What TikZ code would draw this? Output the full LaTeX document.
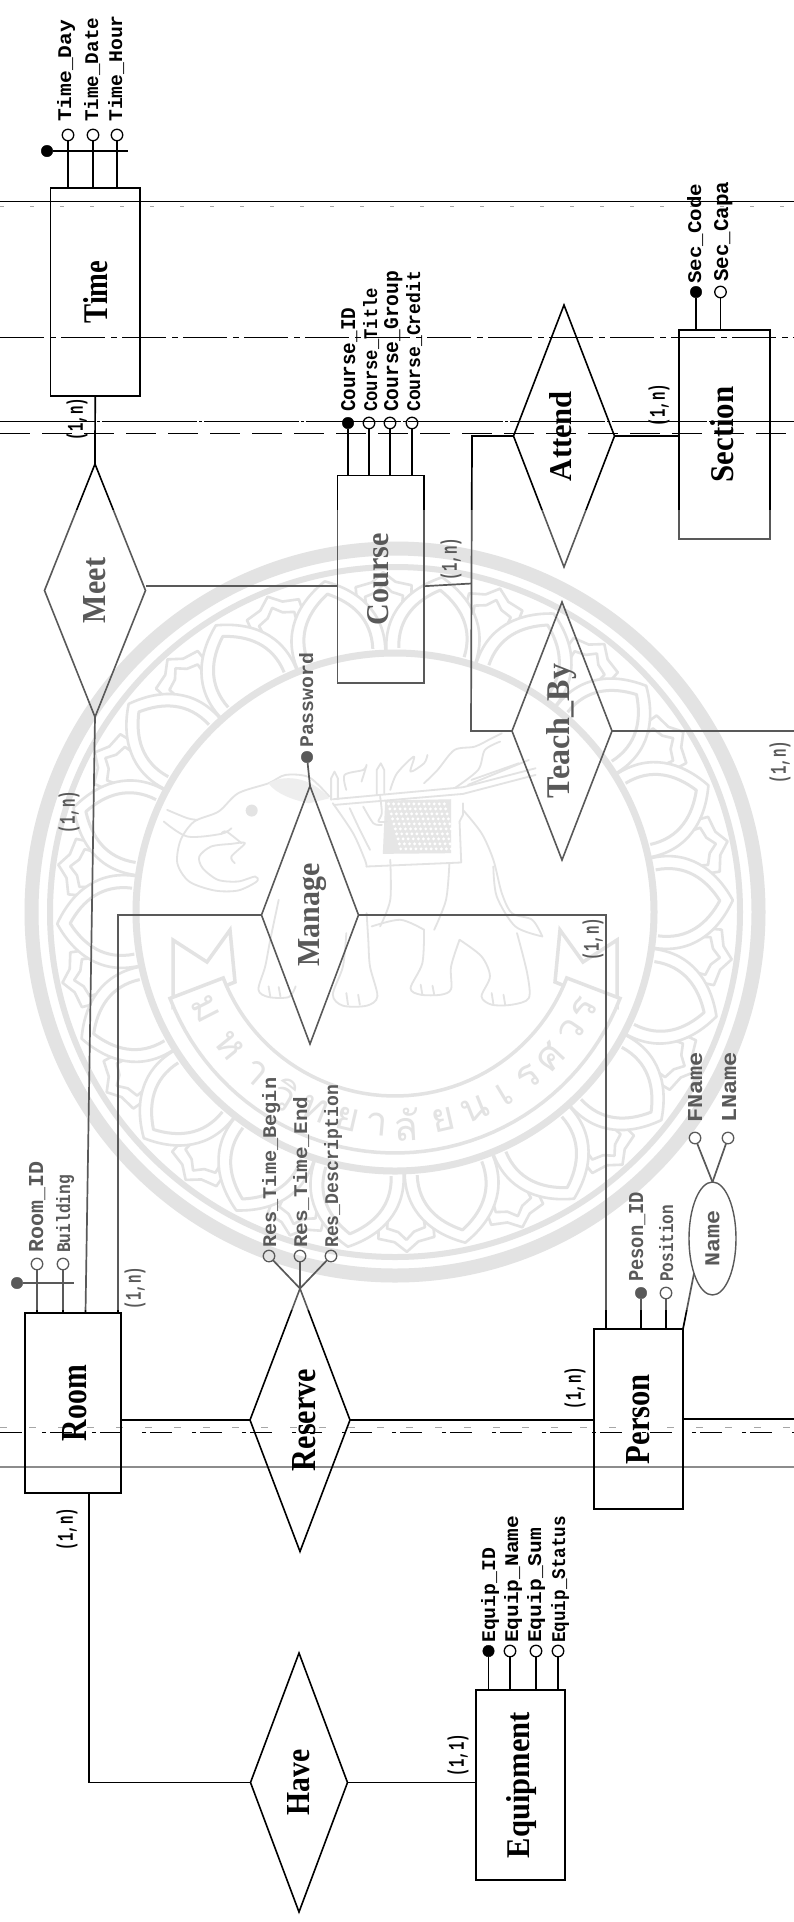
\documentclass[tikz,border=0pt]{standalone}
\usepackage{fontspec}
\setmainfont{Liberation Serif}
\newfontfamily\attfont{Liberation Mono}[BoldFont={Liberation Mono Bold}]
\newfontfamily\thaifont[Script=Thai]{Loma}
\usetikzlibrary{shapes.geometric,calc}
\definecolor{wm}{gray}{0.83}
\newcommand{\attrlab}[5]{\node[rotate=90,anchor=base west,inner sep=0pt] (#1) at (#2+7,#3) {\resizebox{#4pt}{14pt}{\attfont\bfseries #5}};}
\newcommand{\entlab}[4][0pt]{\kern#1\rotatebox{90}{\resizebox{#2pt}{#3pt}{\bfseries #4}}}
\newcommand{\cardlab}[4]{\node[rotate=90,inner sep=0pt] (#1) at (#2,#3) {\resizebox*{42pt}{21pt}{\attfont\bfseries #4}};}
\tikzset{
 entity/.style={rectangle,draw,line width=1.8pt,inner sep=0pt,outer sep=0pt},
 rel/.style={diamond,draw,line width=1.6pt,aspect=0.39,inner sep=0pt,outer sep=0pt},
 lnk/.style={line width=1.7pt},
 acirc/.style={circle,draw,line width=1.3pt,minimum size=11.5pt,inner sep=0pt,outer sep=0pt},
 fcirc/.style={circle,draw,fill=black,minimum size=11.5pt,inner sep=0pt,outer sep=0pt},
 petal/.style={wm,fill=white,line join=round},
 ele/.style={wm,line width=1.8pt,line cap=round,line join=round}
}
\begin{document}
\begin{tikzpicture}[x=1pt,y=-1pt]
\useasboundingbox (0,0) rectangle (794,1922);
\fill[white] (0,0) rectangle (794,1922);
% ---------- seal ----------
\begin{scope}[shift={(395,912)}]
 \draw[wm,line width=14pt] (0,0) circle[radius=363.5pt];
 \draw[wm,line width=6pt] (0,0) circle[radius=345pt];
 \foreach \a in {2,22,...,342}{
  \begin{scope}[rotate=\a,x=1pt,y=1pt]
   \draw[wm,line width=2.6pt,fill=white,line join=round] (-26,290) -- (-28,326) -- (-12,330) -- (0,340) -- (12,330) -- (28,326) -- (26,290);
   \draw[wm,line width=2.6pt,line join=round] (-17,300) -- (-19,316) -- (-8,320) -- (0,328) -- (8,320) -- (19,316) -- (17,300);
  \end{scope}}
 \foreach \a in {12,32,...,352}{
  \begin{scope}[rotate=\a,x=1pt,y=1pt]
   \draw[petal,line width=2.6pt] (-45,258) .. controls (-52,295) and (-32,322) .. (0,338) .. controls (32,322) and (52,295) .. (45,258);
   \draw[petal,line width=3pt] (-33,262) .. controls (-38,292) and (-22,312) .. (0,325) .. controls (22,312) and (38,292) .. (33,262);
  \end{scope}}
 \draw[wm,line width=7pt] (0,0) circle[radius=259pt];
 % ribbon tails
 \foreach \s in {1,-1}{
  \begin{scope}[xscale=\s]
   \draw[wm,line width=3.5pt,fill=white,line join=miter] (-222,28) -- (-188,50) -- (-165,18) -- (-160,70) -- (-222,95) -- cycle;
  \end{scope}}
 % banner
 \draw[wm,line width=3.5pt,fill=white,line join=miter]
   plot[domain=21:159,samples=50] (\x:184) -- plot[domain=159:21,samples=50] (\x:241) -- cycle;
 \foreach \a/\c [count=\i] in {153/ม,141/ห,131/า,121/วิ,112/ท,103/ย,95/า,87/ลั,77/ย,68/น,59/เ,51/ร,43/ศ,34/ว,27/ร}{
  \node[text=wm,inner sep=0pt,rotate=90-\a] (th\i) at (\a:213) {\fontsize{40}{40}\thaifont \c};
 }
\end{scope}
% elephant, in coordinates of a local frame
\begin{scope}[shift={(130,700)},x=0.338pt,y=-0.333pt]
 \draw[ele] plot[smooth] coordinates {(590,290) (530,232) (460,225) (410,250) (320,280) (262,335) (190,365) (150,420) (140,490) (175,545) (250,572) (320,572) (375,545) (370,530) (320,545) (260,540) (215,505) (205,470) (240,440) (300,432) (340,430) (300,470) (310,490)};
 \draw[ele] plot[smooth] coordinates {(100,365) (170,410) (270,402) (300,385)};
 \draw[ele] plot[smooth] coordinates {(110,330) (170,355) (200,360)};
 \draw[ele] plot[smooth] coordinates {(270,402) (285,395) (330,430)};
 \fill[wm!60!white] (410,250) .. controls (450,225) and (530,225) .. (590,295) -- (530,310) .. controls (480,300) and (430,280) .. cycle;
 \fill[wm] (360,332) circle[radius=6pt];
 % legs and feet
 \draw[ele] plot[smooth] coordinates {(440,600) (415,720) (400,800) (380,870) (410,892) (470,892) (490,860)};
 \draw[ele] plot[smooth] coordinates {(700,640) (705,720) (710,800) (732,890) (700,918) (630,918) (600,885) (630,800) (640,700)};
 \draw[ele] plot[smooth] coordinates {(870,690) (865,790) (830,865) (860,885) (920,885) (950,868) (950,800) (975,720)};
 \draw[ele] plot[smooth] coordinates {(975,720) (1040,770) (1065,830) (1040,890) (1070,915) (1130,915) (1180,895) (1175,820) (1145,700)};
 \draw[ele] plot[smooth] coordinates {(715,680) (800,660) (870,690)};
 \draw[ele] (410,860) -- (415,890) (440,862) -- (445,890) (640,880) -- (645,915) (675,885) -- (680,915) (860,855) -- (865,885) (895,858) -- (900,885) (1070,880) -- (1075,912) (1105,885) -- (1110,915);
 % rump and tail
 \draw[ele] plot[smooth] coordinates {(985,330) (1040,400) (1075,480) (1100,580) (1130,640) (1190,660) (1220,710)};
 \draw[ele] plot[smooth] coordinates {(1075,500) (1085,590) (1140,680) (1220,710)};
 % neck folds
 \draw[ele] plot[smooth] coordinates {(600,310) (660,400) (695,480) (700,500)};
 \draw[ele] plot[smooth] coordinates {(650,325) (680,390) (710,450)};
 \draw[ele] plot[smooth] coordinates {(690,320) (720,370) (745,375)};
 \draw[ele] plot[smooth] coordinates {(770,480) (770,600) (740,680)};
 \draw[ele] plot[smooth] coordinates {(945,490) (935,600) (900,690)};
 % blanket
 \fill[wm!85!white] (755,302) -- (950,298) -- (950,460) -- (748,462) -- cycle;
 \foreach \i in {0,...,11}{\foreach \j in {0,...,9}{\fill[white] (765+\i*15+\j*4,312+\j*15) circle[radius=1.6pt];}}
 \draw[ele] (700,500) -- (980,488) -- (975,365);
 \draw[ele] (985,310) -- (985,345) -- (975,365);
 % poles and plumes
 \draw[ele] (600,298) -- (985,262) -- (1200,205);
 \draw[ele] (605,315) -- (985,282) -- (1200,225);
 \draw[ele] (1000,255) -- (1180,180);
 \draw[ele] (1010,240) -- (1150,190);
 \draw[ele] (595,300) -- (595,235) -- (605,215) -- (615,235) -- (615,298);
 \draw[ele] (730,285) -- (730,210) -- (742,190) -- (752,210) -- (752,280);
 \draw[ele] plot[smooth] coordinates {(640,270) (635,225) (690,210) (700,195) (685,245)};
 \draw[ele] plot[smooth] coordinates {(770,270) (790,220) (840,170) (830,215) (870,190) (880,165)};
 \draw[ele] plot[smooth] coordinates {(870,250) (910,210) (960,150) (1020,140) (1070,115) (1100,100)};
 \draw[ele] plot[smooth] coordinates {(960,265) (1030,210) (1050,150) (1095,125)};
 \draw[ele] plot[smooth] coordinates {(740,290) (745,340) (735,365) (760,365)};
\end{scope}
% ---------- scan lines ----------
\coordinate (hAa) at (0,201.6); \coordinate (hAb) at (794,201.6);
\coordinate (hBa) at (0,337);   \coordinate (hBb) at (794,337);
\coordinate (hCa) at (0,421);   \coordinate (hCb) at (794,421);
\coordinate (hDa) at (0,433);   \coordinate (hDb) at (794,433);
\coordinate (hEa) at (0,1432);  \coordinate (hEb) at (794,1432);
\coordinate (hFa) at (0,1467);  \coordinate (hFb) at (794,1467);
\coordinate (hGa) at (0,206);   \coordinate (hGb) at (794,206);
\coordinate (hHa) at (0,1427);  \coordinate (hHb) at (794,1427);
\draw[line width=1.3pt] (hAa) -- (hAb);
\draw[line width=1pt,dash pattern=on 44pt off 6pt on 6pt off 5pt] (hBa) -- (hBb);
\draw[line width=1pt,dash pattern=on 95pt off 2pt on 3pt off 2pt] (hCa) -- (hCb);
\draw[line width=1pt,dash pattern=on 30pt off 12pt] (hDa) -- (hDb);
\draw[line width=1pt,dash pattern=on 22pt off 20pt on 4pt off 4pt] (hEa) -- (hEb);
\draw[line width=1.3pt,gray!90] (hFa) -- (hFb);
\draw[line width=.8pt,gray!70,dash pattern=on 4pt off 26pt] (hGa) -- (hGb);
\draw[line width=.8pt,gray!70,dash pattern=on 7pt off 22pt] (hHa) -- (hHb);
% ---------- entities ----------
\node[entity,minimum width=89.5pt,minimum height=208pt] (Time) at (95.2,292) {\entlab{63}{24}{Time}};
\node[entity,minimum width=86.5pt,minimum height=207.5pt] (Course) at (380.7,579.2) {\entlab[-6pt]{92}{21}{Course}};
\node[entity,minimum width=91pt,minimum height=209pt] (Section) at (724.5,434.5) {\entlab[-4pt]{96}{23}{Section}};
\node[entity,minimum width=96pt,minimum height=180pt] (Room) at (73,1403) {\entlab[3pt]{76}{24}{Room}};
\node[entity,minimum width=89pt,minimum height=180pt] (Person) at (638.5,1419) {\entlab{90}{23}{Person}};
\node[entity,minimum width=89pt,minimum height=190pt] (Equipment) at (520.5,1785) {\entlab[2pt]{146}{23}{Equipment}};
% ---------- relationships ----------
\node[rel,minimum width=101pt,minimum height=253pt] (Meet) at (95,590.5) {\entlab{65}{22}{Meet}};
\node[rel,minimum width=101pt,minimum height=262pt] (Attend) at (564,436) {\entlab[-6pt]{90}{22}{Attend}};
\node[rel,minimum width=100pt,minimum height=258pt] (TeachBy) at (562,731) {\entlab{134}{23}{Teach\_By}};
\node[rel,minimum width=97pt,minimum height=258pt] (Manage) at (310,915) {\entlab[6pt]{103}{21}{Manage}};
\node[rel,minimum width=100pt,minimum height=263pt] (Reserve) at (300,1420) {\entlab[8pt]{102}{23}{Reserve}};
\node[rel,minimum width=97pt,minimum height=259pt] (Have) at (299,1782.5) {\entlab{66}{22}{Have}};
% ---------- relationship links ----------
\coordinate (trunkTop) at (472,436);
\coordinate (trunkBot) at (471,731);
\coordinate (tbEnd) at (794,731);
\coordinate (perEnd) at (794,1419);
\draw[lnk] (Time.south) -- (Meet.north);
\draw[lnk] (Meet.south) -- ([xshift=12.5pt]Room.north);
\draw[lnk] ([yshift=-7pt]Course.west) -- ([yshift=-7pt]Course.west -| Meet.east);
\draw[lnk] (Attend.west) -- (trunkTop) -- (trunkBot) -- (TeachBy.west);
\draw[lnk] ([yshift=-7pt]Course.east) -- ($(trunkTop)!0.5!(trunkBot)$ |- {[yshift=-7pt]Course.east});
\draw[lnk] (Attend.east) -- (Attend.east -| Section.west);
\draw[lnk] (TeachBy.east) -- (tbEnd);
\draw[lnk] (Manage.west) -| ([xshift=45pt]Room.north);
\draw[lnk] (Manage.east) -| ([xshift=-32.5pt]Person.north);
\draw[lnk] (Reserve.west) -- (Reserve.west -| Room.east);
\draw[lnk] (Reserve.east) -- (Reserve.east -| Person.west);
\draw[lnk] (Person.east) -- (perEnd);
\draw[lnk] (Have.west) -| ([xshift=16pt]Room.south);
\draw[lnk] (Have.east) -- (Have.east -| Equipment.west);
% ---------- Time attributes ----------
\node[fcirc] (tk) at (47,151) {};
\coordinate (tkEnd) at (128,151);
\draw[line width=1.2pt] (tk) -- (tkEnd);
\node[acirc] (ta) at (68,135) {};
\node[acirc] (tb) at (93,135) {};
\node[acirc] (tc) at (117,135) {};
\draw[lnk] (ta.south) -- (ta.south |- Time.north);
\draw[lnk] (tb.south) -- (tb.south |- Time.north);
\draw[lnk] (tc.south) -- (tc.south |- Time.north);
\attrlab{tal}{64}{122}{102}{Time\_Day}
\attrlab{tbl}{91}{122}{104}{Time\_Date}
\attrlab{tcl}{115}{122}{106.5}{Time\_Hour}
% ---------- Course attributes ----------
\node[fcirc] (ca) at (348,423) {};
\node[acirc] (cb) at (369,423) {};
\node[acirc] (cc) at (390,423) {};
\node[acirc] (cd) at (412,423) {};
\foreach \n in {ca,cb,cc,cd}{\draw[lnk] (\n.south) -- (\n.south |- Course.north);}
\attrlab{cal}{348}{412}{104}{Course\_ID}
\attrlab{cbl}{370}{412}{124}{Course\_Title}
\attrlab{ccl}{391}{412}{141}{Course\_Group}
\attrlab{cdl}{413}{412}{141}{Course\_Credit}
% ---------- Section attributes ----------
\node[fcirc] (sa) at (696,292) {};
\node[acirc] (sb) at (720.5,292) {};
\draw[lnk] (sa.south) -- (sa.south |- Section.north);
\draw[lnk] (sb.south) -- (sb.south |- Section.north);
\attrlab{sal}{694}{284}{100}{Sec\_Code}
\attrlab{sbl}{721}{282}{100}{Sec\_Capa}
% ---------- Manage attribute ----------
\node[fcirc,fill=black] (pw) at (307,757) {};
\draw[lnk] (pw) -- (Manage.north);
\attrlab{pwl}{306}{748}{95}{Password}
% ---------- Room attributes ----------
\node[fcirc] (rk) at (17,1283) {};
\coordinate (rkEnd) at (74,1283);
\draw[line width=1.2pt] (rk) -- (rkEnd);
\node[acirc] (ra) at (37,1264) {};
\node[acirc] (rb) at (63,1264) {};
\draw[lnk] (ra.south) -- (ra.south |- Room.north);
\draw[lnk] (rb.south) -- (rb.south |- Room.north);
\attrlab{ral}{36}{1253}{91}{Room\_ID}
\attrlab{rbl}{63}{1253}{78}{Building}
% ---------- Reserve attributes ----------
\node[acirc] (ea) at (269,1256) {};
\node[acirc] (eb) at (300,1256) {};
\node[acirc] (ec) at (331,1256) {};
\draw[lnk] (ea) -- (Reserve.north);
\draw[lnk] (eb) -- (Reserve.north);
\draw[lnk] (ec) -- (Reserve.north);
\attrlab{eal}{269}{1248}{170}{Res\_Time\_Begin}
\attrlab{ebl}{300}{1248}{151}{Res\_Time\_End}
\attrlab{ecl}{331}{1248}{163}{Res\_Description}
% ---------- Person attributes ----------
\node[fcirc] (pa) at (641,1293) {};
\node[acirc] (pb) at (666,1293) {};
\draw[lnk] (pa.south) -- (pa.south |- Person.north);
\draw[lnk] (pb.south) -- (pb.south |- Person.north);
\attrlab{pal}{636}{1282}{90}{Peson\_ID}
\attrlab{pbl}{666}{1282}{77}{Position}
\node[ellipse,draw,line width=1.4pt,minimum width=47pt,minimum height=113pt,inner sep=0pt,outer sep=0pt] (NameEl) at (712.5,1238.5)
  {\rotatebox{90}{\resizebox{56pt}{14pt}{\attfont\bfseries Name}}};
\draw[lnk] (NameEl.242) -- ([xshift=44.5pt]Person.north);
\node[acirc] (na) at (695,1138) {};
\node[acirc] (nb) at (728,1138) {};
\draw[lnk] (na) -- (NameEl.north);
\draw[lnk] (nb) -- (NameEl.north);
\attrlab{nal}{695}{1123}{71}{FName}
\attrlab{nbl}{729}{1123}{71}{LName}
% ---------- Equipment attributes ----------
\node[fcirc] (qa) at (488.5,1651) {};
\node[acirc] (qb) at (510,1651) {};
\node[acirc] (qc) at (536,1651) {};
\node[acirc] (qd) at (558,1651) {};
\foreach \n in {qa,qb,qc,qd}{\draw[lnk] (\n.south) -- (\n.south |- Equipment.north);}
\attrlab{qal}{488}{1643}{95}{Equip\_ID}
\attrlab{qbl}{511}{1643}{127}{Equip\_Name}
\attrlab{qcl}{534}{1643}{115}{Equip\_Sum}
\attrlab{qdl}{558}{1643}{127}{Equip\_Status}
% ---------- cardinalities ----------
\cardlab{c1}{77}{419}{(1,n)}
\cardlab{c2}{451}{559}{(1,n)}
\cardlab{c3}{659}{405}{(1,n)}
\cardlab{c4}{780}{762}{(1,n)}
\cardlab{c5}{69}{812}{(1,n)}
\cardlab{c6}{593}{939}{(1,n)}
\cardlab{c7}{135}{1288}{(1,n)}
\cardlab{c8}{575}{1388}{(1,n)}
\cardlab{c9}{67}{1529}{(1,n)}
\cardlab{c10}{458}{1755}{(1,1)}
% ---------- paler middle of the scan ----------
\fill[white,opacity=.35] (0,510) rectangle (794,1310);
\end{tikzpicture}
\end{document}
